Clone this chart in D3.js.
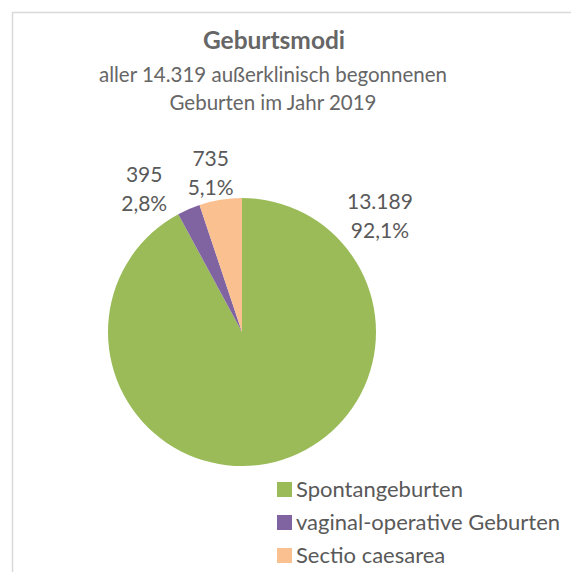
<!DOCTYPE html>
<html>
<head>
<meta charset="utf-8">
<script src="https://cdn.jsdelivr.net/npm/d3@7/dist/d3.min.js"></script>
<style>
  html, body { margin: 0; padding: 0; background: #fff; }
  svg text { font-family: Lato, "Open Sans", sans-serif; fill: #595959; }
</style>
</head>
<body>
<div id="chart"></div>
<script>
// Geburtsmodi 2019
var categories = ["Spontangeburten", "vaginal-operative Geburten", "Sectio caesarea"];
var values = [13189, 395, 735];
var colors = ["#9BBB59", "#8064A2", "#FAC090"];
var titleText = "Geburtsmodi";
var subtitleLines = ["aller 14.319 außerklinisch begonnenen", "Geburten im Jahr 2019"];

var W = 571, H = 572;
var svg = d3.select("#chart").append("svg").attr("width", W).attr("height", H);

// frame (only top/left visible inside the crop)
svg.append("path")
  .attr("d", "M12.5," + H + "V12.5H" + W)
  .attr("fill", "none").attr("stroke", "#D9D9D9").attr("stroke-width", 1.5);

svg.append("text").attr("x", 274).attr("y", 49).attr("text-anchor", "middle")
  .style("font-size", "24.5px").style("font-weight", "bold").style("fill", "#666")
  .text(titleText);
subtitleLines.forEach(function(s, i) {
  svg.append("text").attr("x", 273).attr("y", 82 + i * 28).attr("text-anchor", "middle")
    .style("font-size", "20.5px").style("fill", "#666").text(s);
});

var total = d3.sum(values);
var fmtN = d3.formatLocale({decimal: ",", thousands: ".", grouping: [3], currency: ["", "€"]});
var numFmt = fmtN.format(",d"), pctFmt = fmtN.format(".1%");

var cx = 242, cy = 332, r = 134;
var pie = d3.pie().sort(null).value(function(d) { return d; });
var arcs = pie(values);
var arc = d3.arc().innerRadius(0).outerRadius(r);

var g = svg.append("g").attr("transform", "translate(" + cx + "," + cy + ")");
g.selectAll("path.slice").data(arcs).enter().append("path")
  .attr("class", "slice")
  .attr("d", arc)
  .attr("fill", function(d, i) { return colors[i]; });

// label placement, roughly as Excel's best fit
var labelAngle = [
  function(d) { return d.startAngle + 0.86; },
  function(d) { return (d.startAngle + d.endAngle) / 2 - 0.18; },
  function(d) { return (d.startAngle + d.endAngle) / 2 - 0.03; }
];
var labelR = [182, 176, 165];
arcs.forEach(function(d, i) {
  var a = labelAngle[i](d);
  var x = Math.sin(a) * labelR[i], y = -Math.cos(a) * labelR[i];
  var t = g.append("text").attr("text-anchor", "middle").style("font-size", "21px");
  t.append("tspan").attr("x", x).attr("y", y - 4).text(numFmt(d.data));
  t.append("tspan").attr("x", x).attr("y", y + 25).text(pctFmt(d.data / total));
});

// legend
var leg = svg.append("g").attr("transform", "translate(277,482)");
var rows = leg.selectAll("g").data(categories).enter().append("g")
  .attr("transform", function(d, i) { return "translate(0," + (i * 33) + ")"; });
rows.append("rect").attr("width", 15).attr("height", 15)
  .attr("fill", function(d, i) { return colors[i]; });
rows.append("text").attr("x", 19).attr("y", 15).style("font-size", "22px")
  .text(function(d) { return d; });
</script>
</body>
</html>
